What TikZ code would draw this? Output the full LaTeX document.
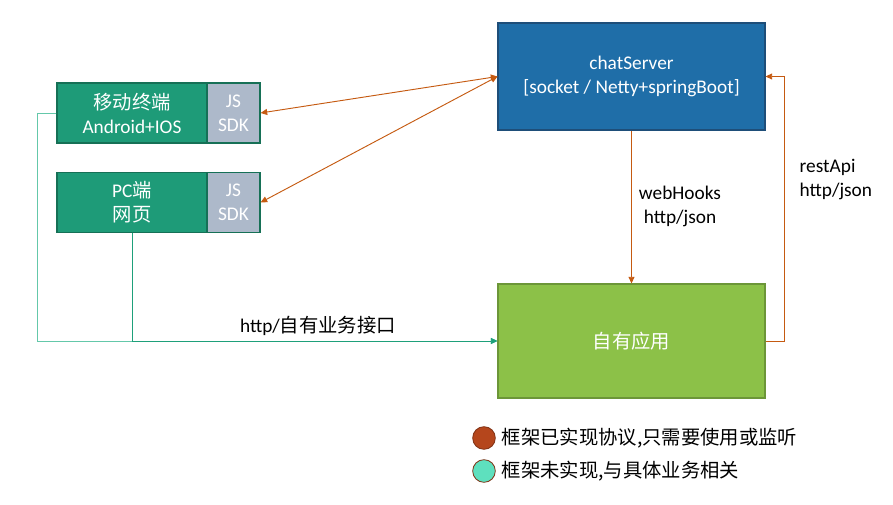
\documentclass[tikz,border=0pt]{standalone}
\usepackage{fontspec}
\setmainfont{Carlito}
\newfontfamily\cjk{Noto Sans CJK SC}
\usetikzlibrary{arrows.meta}

\definecolor{serverblue}{RGB}{31,110,168}
\definecolor{serverline}{RGB}{30,78,121}
\definecolor{clientgreen}{RGB}{30,155,120}
\definecolor{clientline}{RGB}{22,112,86}
\definecolor{sdkgray}{RGB}{173,185,202}
\definecolor{appgreen}{RGB}{140,193,72}
\definecolor{appline}{RGB}{108,150,56}
\definecolor{linkorange}{RGB}{197,90,17}
\definecolor{mobileline}{RGB}{100,200,170}
\definecolor{pcline}{RGB}{30,160,122}
\definecolor{legendbrown}{RGB}{181,70,28}
\definecolor{legendteal}{RGB}{94,224,190}

\begin{document}
\begin{tikzpicture}[
  x=0.75pt, y=-0.75pt,
  every node/.style={font=\fontsize{14.5pt}{18pt}\selectfont},
  bignode/.style={rectangle, draw, line width=0.8pt, minimum width=200.25pt, text=white, align=center},
  clientnode/.style={rectangle, draw=clientline, fill=clientgreen, line width=0.8pt, minimum width=112.5pt, minimum height=45pt, text=white, align=center},
  sdknode/.style={rectangle, draw=clientline, fill=sdkgray, line width=0.8pt, minimum width=39.75pt, minimum height=45pt, text=white, align=center},
  legendnode/.style={circle, draw=legendbrown!70!black, line width=0.6pt, minimum size=17pt, inner sep=0pt},
  linkarrow/.style={-{Triangle[length=5pt,width=4.5pt]}, line width=0.7pt},
  botharrow/.style={{Triangle[length=5pt,width=4.5pt]}-{Triangle[length=5pt,width=4.5pt]}, line width=0.7pt}
]
\useasboundingbox (0,0) rectangle (893,505);

% Server and app boxes
\node[bignode, draw=serverline, fill=serverblue, minimum height=80.25pt] (server) at (631.5, 76.5) {chatServer\\{[}socket / Netty+springBoot{]}};
\node[bignode, draw=appline, fill=appgreen, minimum height=85.5pt] (app) at (631.5, 341) {\cjk 自有应用};

% Client boxes
\node[clientnode] (mobile) at (132, 113) {{\cjk 移动终端}\\Android+IOS};
\node[sdknode] (mobilesdk) at (233.5, 113) {JS\\SDK};
\node[clientnode] (pc) at (132, 202.5) {PC{\cjk 端}\\{\cjk 网页}};
\node[sdknode] (pcsdk) at (233.5, 202.5) {JS\\SDK};

% Orange links
\draw[botharrow, linkorange] (server.west) -- (mobilesdk.east);
\draw[botharrow, linkorange] (server.west) -- (pcsdk.east);
\draw[linkarrow, linkorange] (server.south) -- (app.north);
\draw[linkarrow, linkorange] (app.east) -- ++(19,0) |- (server.east);

\node[align=center] (hooks) at (680, 206) {webHooks\\http/json};
\node[align=left, anchor=west] (rest) at (795, 180) {restApi\\http/json};

% Green links
\draw[linkarrow, mobileline] (mobile.west) -- ++(-19,0) |- (app.west);
\draw[linkarrow, pcline] (pc.south) |- (app.west);
\node (bizapi) at (318, 326) {http/{\cjk 自有业务接口}};

% Legend
\node[legendnode, fill=legendbrown] (legA) at (484, 438) {};
\node[anchor=west] (legAtext) at (497, 438) {\cjk 框架已实现协议,只需要使用或监听};
\node[legendnode, fill=legendteal] (legB) at (484, 471) {};
\node[anchor=west] (legBtext) at (497, 471) {\cjk 框架未实现,与具体业务相关};

\end{tikzpicture}
\end{document}
